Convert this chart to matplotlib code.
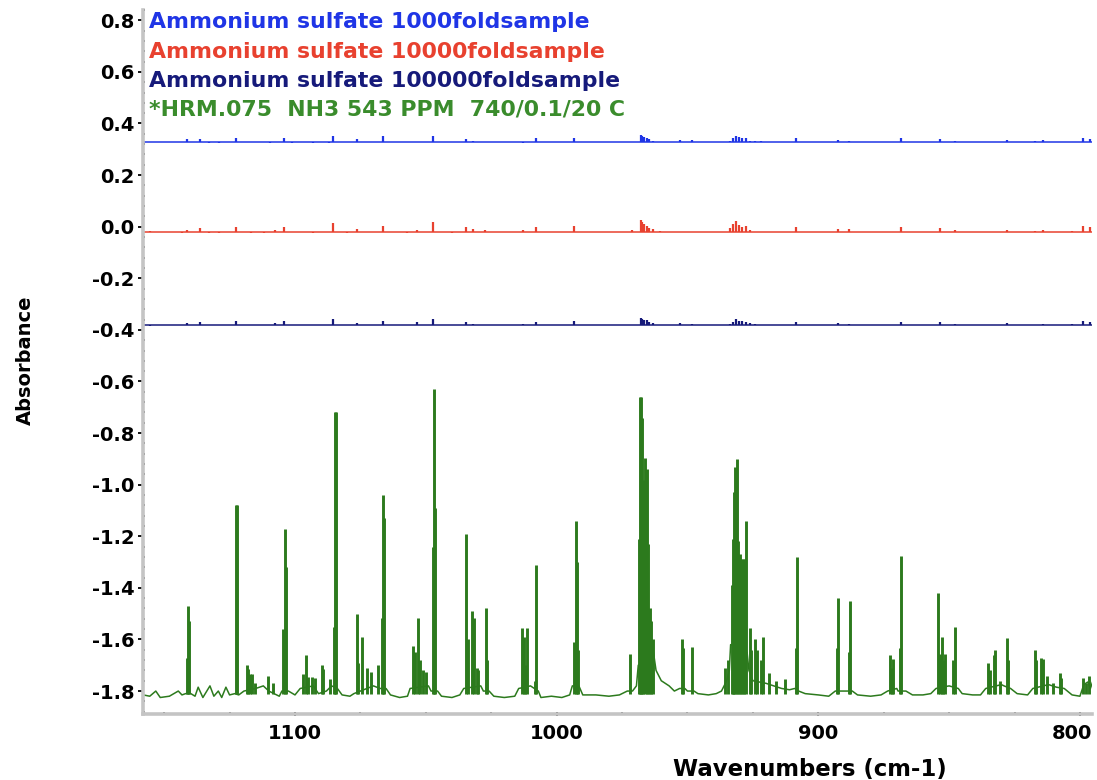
import matplotlib
matplotlib.use("Agg")
import matplotlib.pyplot as plt
import matplotlib.transforms as mtransforms
from matplotlib.ticker import MultipleLocator, FormatStrFormatter

plt.rcParams['font.family'] = ['DejaVu Sans']
plt.rcParams['axes.unicode_minus'] = False

# --- sample traces (nearly flat): baseline level + small features, offsets from baseline
sample_wn = [1155.4, 1143.3, 1141.4, 1136.3, 1133.0, 1129.0, 1122.7, 1117.0, 1112.0, 1109.6,
             1107.6, 1104.2, 1101.3, 1093.0, 1086.9, 1085.4, 1080.2, 1076.4, 1066.5, 1057.3,
             1053.5, 1047.1, 1040.0, 1034.7, 1031.9, 1027.4, 1012.8, 1007.9, 993.3, 971.3,
             967.9, 967.3, 966.6, 965.6, 964.6, 963.1, 960.5, 952.9, 948.4, 933.8,
             932.6, 931.5, 930.4, 929.3, 927.8, 926.1, 924.2, 921.7, 908.6, 892.4,
             888.2, 868.2, 853.5, 847.8, 828.0, 817.2, 814.0, 803.2, 798.8, 796.2]

blue_base = 0.330
red_base = -0.019
navy_base = -0.380

blue_delta = [0, 0, .008, .010, -.004, -.004, .013, 0, 0, -.006,
              0, .014, -.006, -.004, -.004, .020, 0, .008, .020, 0,
              0, .020, 0, .010, .004, -.003, -.004, .013, .014, 0,
              .026, .022, .018, .015, .010, .004, 0, .006, .005, .004,
              .012, .022, .016, .012, .013, .004, .003, .003, .012, .006,
              .003, .013, .008, .003, .006, .003, .006, 0, .013, .009]
red_delta = [.004, -.006, .006, .014, -.004, -.004, .017, -.004, -.004, -.003,
             .008, .017, -.003, -.004, 0, .034, -.004, .010, .021, -.004,
             .006, .036, -.004, .019, .010, .006, .006, .017, .022, .005,
             .045, .038, .030, .022, .015, .009, .003, 0, 0, .015,
             .030, .040, .025, .018, .022, .005, 0, -.003, .016, .009,
             .009, .016, .013, .008, .008, .003, .005, .003, .022, .018]
navy_delta = [-.004, 0, .008, .010, -.003, -.003, .016, -.003, -.002, -.003,
              .005, .016, 0, -.003, 0, .021, 0, .006, .016, 0,
              .009, .021, -.003, .009, .003, 0, .003, .012, .016, 0,
              .026, .022, .020, .019, .010, .005, 0, .005, .004, .003,
              .012, .021, .016, .013, .010, .005, .003, 0, .009, .006,
              .003, .010, .009, .004, .008, 0, .003, .003, .015, .010]

# --- reference NH3 spectrum: baseline trace and sharp lines
green_base_wn = [1158, 1155.5, 1153.2, 1151.5, 1148, 1144.6, 1143.2, 1141.8, 1139.8, 1138.2,
                 1137.0, 1135.2, 1132.5, 1131.0, 1129.3, 1128.0, 1126.4, 1125.0, 1123.0, 1121.5,
                 1119.5, 1115.0, 1112.1, 1110.0, 1106.0, 1105.0, 1102.5, 1100.0, 1098.0, 1093.0,
                 1091.0, 1088.0, 1086.0, 1083.8, 1082.0, 1079.0, 1077.5, 1070.0, 1067.5, 1065.2,
                 1063.5, 1060.0, 1057.0, 1056.0, 1049.0, 1048.0, 1045.5, 1044.0, 1040.0, 1037.0,
                 1035.5, 1029.0, 1028.0, 1025.8, 1024.0, 1020.0, 1016.0, 1014.5, 1010.0, 1007.0,
                 1006.0, 1002.0, 998.0, 995.0, 994.0, 991.5, 990.0, 985.0, 980.0, 976.0,
                 973.0, 971.0, 969.5, 968.8, 963.0, 962.0, 960.0, 957.0, 955.0, 953.0,
                 951.0, 950.0, 947.5, 946.0, 942.0, 939.0, 937.0, 935.0, 934.0, 933.5,
                 927.2, 926.5, 925.0, 920.0, 917.0, 914.0, 911.0, 909.0, 907.5, 905.0,
                 900.0, 896.0, 893.5, 891.0, 889.0, 887.0, 885.0, 880.0, 876.0, 873.5,
                 870.0, 869.5, 866.5, 864.0, 860.0, 857.0, 855.0, 850.0, 846.5, 845.0,
                 841.0, 838.0, 836.0, 830.0, 829.0, 826.5, 824.0, 820.0, 818.0, 812.0,
                 809.0, 806.0, 803.0, 800.0, 798.5, 797.0, 796.0, 795.0]
green_base_abs = [-1.815, -1.82, -1.80, -1.825, -1.82, -1.80, -1.815, -1.81, -1.81, -1.82,
                  -1.785, -1.825, -1.78, -1.82, -1.80, -1.825, -1.785, -1.815, -1.81, -1.815,
                  -1.80, -1.79, -1.78, -1.80, -1.82, -1.80, -1.80, -1.815, -1.79, -1.78,
                  -1.81, -1.80, -1.78, -1.79, -1.815, -1.82, -1.81, -1.78, -1.79, -1.79,
                  -1.815, -1.825, -1.82, -1.79, -1.78, -1.80, -1.80, -1.82, -1.825, -1.815,
                  -1.79, -1.78, -1.80, -1.80, -1.82, -1.825, -1.82, -1.79, -1.78, -1.80,
                  -1.825, -1.82, -1.825, -1.815, -1.78, -1.78, -1.815, -1.815, -1.82, -1.815,
                  -1.80, -1.80, -1.78, -1.70, -1.65, -1.72, -1.76, -1.78, -1.80, -1.79,
                  -1.79, -1.80, -1.80, -1.81, -1.815, -1.81, -1.80, -1.76, -1.72, -1.62,
                  -1.65, -1.72, -1.76, -1.77, -1.78, -1.79, -1.795, -1.79, -1.80, -1.81,
                  -1.815, -1.82, -1.80, -1.80, -1.80, -1.80, -1.815, -1.82, -1.815, -1.80,
                  -1.79, -1.80, -1.80, -1.815, -1.815, -1.81, -1.79, -1.78, -1.79, -1.81,
                  -1.815, -1.815, -1.79, -1.775, -1.78, -1.79, -1.81, -1.815, -1.79, -1.775,
                  -1.785, -1.79, -1.815, -1.82, -1.775, -1.765, -1.79, -1.76]

green_peak_wn = [1141.4, 1141.0, 1140.5, 1122.5, 1122.2, 1118.5, 1117.9, 1117.2, 1116.6, 1115.3,
                 1110.4, 1108.3, 1104.4, 1103.9, 1103.5, 1097.1, 1095.6, 1094.9, 1093.6, 1092.4,
                 1089.8, 1089.2, 1086.6, 1085.2, 1084.8, 1084.5, 1076.4, 1075.8, 1074.3, 1072.6,
                 1071.0, 1068.2, 1066.7, 1066.3, 1066.0, 1055.0, 1054.1, 1053.1, 1052.2, 1051.2,
                 1049.9, 1047.3, 1046.9, 1046.3, 1034.6, 1034.0, 1032.5, 1031.5, 1030.6, 1030.0,
                 1027.1, 1026.7, 1013.4, 1012.4, 1011.9, 1011.2, 1008.3, 1007.9, 993.3, 992.7,
                 992.3, 992.0, 972.0, 968.4, 968.1, 967.8, 967.4, 966.8, 966.2, 965.6,
                 964.9, 964.5, 963.9, 963.3, 952.2, 951.7, 948.4, 935.7, 934.4, 933.1,
                 932.5, 932.1, 931.8, 931.2, 930.7, 930.1, 929.4, 928.9, 928.4, 927.8,
                 926.1, 925.6, 924.2, 923.6, 921.7, 921.3, 918.7, 916.0, 912.8, 908.6,
                 908.3, 892.8, 892.4, 888.3, 888.0, 872.6, 871.9, 871.3, 868.8, 868.2,
                 854.2, 853.5, 852.9, 852.2, 851.6, 848.4, 847.8, 835.1, 834.4, 833.0,
                 832.5, 830.6, 828.0, 827.6, 817.2, 816.6, 814.7, 814.1, 812.7, 810.2,
                 807.7, 807.2, 799.0, 797.5, 796.5]
green_peak_abs = [-1.67, -1.47, -1.53, -1.08, -1.08, -1.70, -1.715, -1.735, -1.735, -1.77,
                  -1.74, -1.77, -1.56, -1.17, -1.32, -1.735, -1.66, -1.745, -1.745, -1.75,
                  -1.70, -1.715, -1.755, -1.55, -0.72, -0.72, -1.50, -1.69, -1.59, -1.71,
                  -1.725, -1.70, -1.515, -1.04, -1.13, -1.625, -1.65, -1.515, -1.68, -1.72,
                  -1.725, -1.24, -0.63, -1.09, -1.19, -1.60, -1.49, -1.515, -1.71, -1.72,
                  -1.48, -1.68, -1.555, -1.59, -1.70, -1.555, -1.76, -1.31, -1.61, -1.14,
                  -1.30, -1.64, -1.655, -1.21, -0.66, -0.66, -0.74, -0.98, -0.895, -0.94,
                  -1.23, -1.48, -1.53, -1.60, -1.60, -1.635, -1.63, -1.71, -1.68, -1.39,
                  -1.21, -1.03, -0.93, -0.90, -1.22, -1.27, -1.29, -1.29, -1.29, -1.14,
                  -1.555, -1.64, -1.60, -1.64, -1.68, -1.59, -1.73, -1.76, -1.755, -1.635,
                  -1.28, -1.635, -1.44, -1.65, -1.45, -1.66, -1.71, -1.675, -1.635, -1.275,
                  -1.42, -1.655, -1.59, -1.68, -1.655, -1.68, -1.55, -1.69, -1.72, -1.66,
                  -1.64, -1.76, -1.595, -1.68, -1.64, -1.68, -1.67, -1.675, -1.74, -1.77,
                  -1.73, -1.75, -1.75, -1.77, -1.74]
green_floor = -1.81

legend_labels = ["Ammonium sulfate 1000foldsample",
                 "Ammonium sulfate 10000foldsample",
                 "Ammonium sulfate 100000foldsample",
                 "*HRM.075  NH3 543 PPM  740/0.1/20 C"]

BLUE = '#1f35e6'
RED = '#e8412f'
NAVY = '#161a7a'
GREEN = '#2c7a1d'
GREEN_TXT = '#3a8c2c'

x_left, x_right = 1157.9, 795.4

fig = plt.figure(figsize=(10.97, 7.8), dpi=100)
ax = fig.add_axes([0.1308, 0.0846, 0.8646, 0.9026])

# flat sample traces
for base, delta, col in [(blue_base, blue_delta, BLUE),
                         (red_base, red_delta, RED),
                         (navy_base, navy_delta, NAVY)]:
    ax.hlines(base, x_left, x_right, color=col, lw=1.1)
    ax.vlines(sample_wn, base, [base + d for d in delta], color=col, lw=1.6)

# NH3 reference spectrum
ax.plot(green_base_wn, green_base_abs, color=GREEN, lw=1.1)
ax.vlines(green_peak_wn, green_floor, green_peak_abs, color=GREEN, lw=2.1)

ax.set_xlim(x_left, x_right)
ax.set_ylim(-1.889, 0.84)

ax.xaxis.set_major_locator(MultipleLocator(100))
ax.xaxis.set_minor_locator(MultipleLocator(25))
ax.yaxis.set_major_locator(MultipleLocator(0.2))
ax.yaxis.set_minor_locator(MultipleLocator(0.04))
ax.yaxis.set_major_formatter(FormatStrFormatter('%.1f'))

for s in ['top', 'right']:
    ax.spines[s].set_visible(False)
for s in ['left', 'bottom']:
    ax.spines[s].set_color('#c4c4c4')
    ax.spines[s].set_linewidth(2.6)

ax.tick_params(axis='y', which='major', direction='out', length=3.5, width=1.3,
               color='black', pad=3, labelsize=14)
ax.tick_params(axis='x', which='major', direction='inout', length=3, width=1.3,
               color='black', pad=6, labelsize=14)
ax.tick_params(which='minor', direction='in', length=1.5, width=1.4, color='#333333')
for lab in ax.get_xticklabels() + ax.get_yticklabels():
    lab.set_fontweight('bold')

# keep the last x label (800) inside the figure edge
fig.canvas.draw()
last = [t for t in ax.get_xticklabels() if t.get_text() == '800']
for t in last:
    t.set_transform(t.get_transform() +
                    mtransforms.ScaledTranslation(-6 / 72, 0, fig.dpi_scale_trans))

ax.set_xlabel("Wavenumbers (cm-1)", fontsize=16.4, fontweight='bold')
ax.xaxis.set_label_coords(0.7027, -0.0625)
ax.set_ylabel("Absorbance", fontsize=14, fontweight='bold')
ax.yaxis.set_label_coords(-0.1144, 0.503)

# colored legend text at top left
for lab, col, y in zip(legend_labels, [BLUE, RED, NAVY, GREEN_TXT],
                       [0.9737, 0.9311, 0.8899, 0.8501]):
    ax.text(0.0055, y, lab, transform=ax.transAxes, color=col, fontsize=15.8,
            fontweight='bold', va='baseline', ha='left')

fig.savefig("out.png", dpi=100)
